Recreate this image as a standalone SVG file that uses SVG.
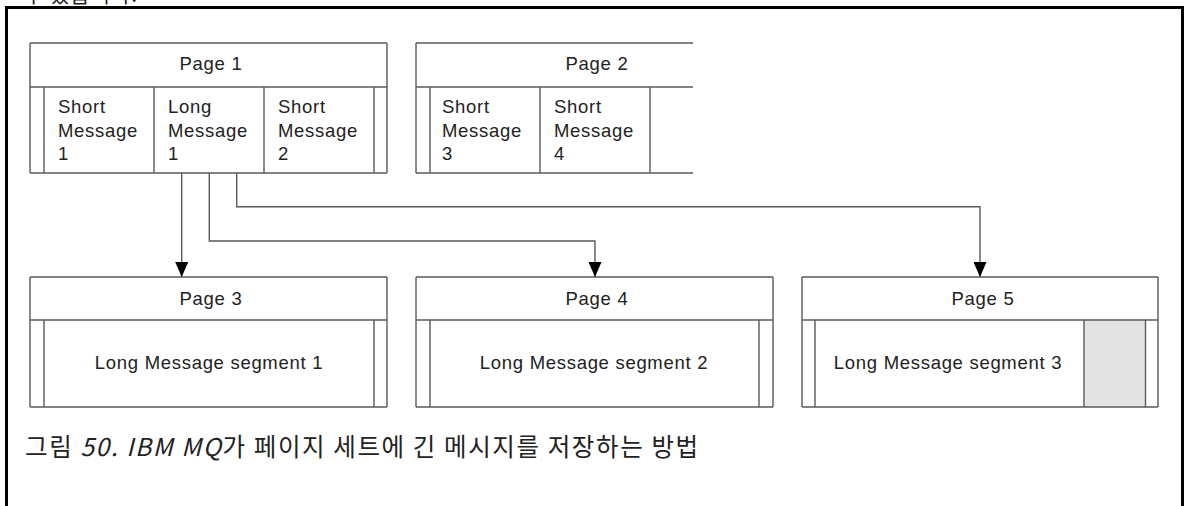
<svg xmlns="http://www.w3.org/2000/svg" width="1184" height="506" viewBox="0 0 1184 506">
<style>
.ln{fill:none;stroke:#5a5a5a;stroke-width:1.4}
.cn{fill:none;stroke:#5a5a5a;stroke-width:1.4}
.t{font-family:"Liberation Sans",Arial,sans-serif;font-size:18.5px;letter-spacing:0.7px;fill:#222}
.c{text-anchor:middle}
.cap{font-family:"Noto Sans CJK KR","Noto Sans",sans-serif;font-size:24.5px;letter-spacing:1.6px;fill:#222}
</style>
<defs>
<marker id="ah" markerWidth="16" markerHeight="13" refX="15" refY="6.5" orient="auto" markerUnits="userSpaceOnUse">
<path d="M0,0 L15,6.5 L0,13 Z" fill="#000"/>
</marker>
</defs>
<rect width="1184" height="506" fill="#fff"/>
<text class="cap" x="24" y="2" style="font-size:21px;letter-spacing:1px">수 있습니다.</text>
<path d="M6.5,506 V7.5 H1182.5 V506" fill="none" stroke="#000" stroke-width="3"/>

<g id="page1">
<path class="ln" d="M30,43 H387 M30,87 H387 M30,173 H387 M30,43 V173 M387,43 V173 M44,87 V173 M154,87 V173 M264,87 V173 M374,87 V173"/>
<text class="t c" x="211" y="70">Page 1</text>
<text class="t" x="58" y="113">Short</text><text class="t" x="58" y="136.5">Message</text><text class="t" x="58" y="159.5">1</text>
<text class="t" x="168" y="113">Long</text><text class="t" x="168" y="136.5">Message</text><text class="t" x="168" y="159.5">1</text>
<text class="t" x="278" y="113">Short</text><text class="t" x="278" y="136.5">Message</text><text class="t" x="278" y="159.5">2</text>
</g>

<g id="page2">
<path class="ln" d="M416,43 H693 M416,87 H693 M416,173 H693 M416,43 V173 M430,87 V173 M540,87 V173 M650,87 V173"/>
<text class="t c" x="597" y="70">Page 2</text>
<text class="t" x="442" y="113">Short</text><text class="t" x="442" y="136.5">Message</text><text class="t" x="442" y="159.5">3</text>
<text class="t" x="554" y="113">Short</text><text class="t" x="554" y="136.5">Message</text><text class="t" x="554" y="159.5">4</text>
</g>

<g id="page3">
<path class="ln" d="M30,277 H387 M30,320 H387 M30,407 H387 M30,277 V407 M387,277 V407 M44,320 V407 M374,320 V407"/>
<text class="t c" x="211" y="305">Page 3</text>
<text class="t c" x="209" y="369">Long Message segment 1</text>
</g>

<g id="page4">
<path class="ln" d="M416,277 H773 M416,320 H773 M416,407 H773 M416,277 V407 M773,277 V407 M430,320 V407 M759,320 V407"/>
<text class="t c" x="597" y="305">Page 4</text>
<text class="t c" x="594" y="369">Long Message segment 2</text>
</g>

<g id="page5">
<rect x="1084" y="320" width="61.5" height="87" fill="#e4e4e4"/>
<path class="ln" d="M802,277 H1158 M802,320 H1158 M802,407 H1158 M802,277 V407 M1158,277 V407 M815,320 V407 M1084,320 V407 M1145.5,320 V407"/>
<text class="t c" x="983" y="305">Page 5</text>
<text class="t c" x="948" y="369">Long Message segment 3</text>
</g>

<g id="connectors">
<path class="cn" d="M181.7,173 V277" marker-end="url(#ah)"/>
<path class="cn" d="M209.3,173 V241 H595 V277" marker-end="url(#ah)"/>
<path class="cn" d="M236.7,173 V206.7 H980 V277" marker-end="url(#ah)"/>
</g>

<text class="cap" x="25" y="456">그림 <tspan font-style="italic">50. IBM MQ</tspan>가 페이지 세트에 긴 메시지를 저장하는 방법</text>
</svg>
